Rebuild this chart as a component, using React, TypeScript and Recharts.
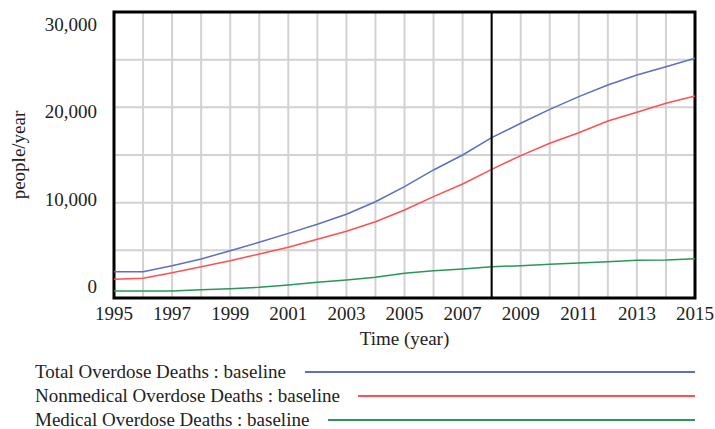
import { CartesianGrid, Line, LineChart, ReferenceArea, ReferenceLine, XAxis, YAxis } from "recharts";

const years = [
  1995, 1996, 1997, 1998, 1999, 2000, 2001, 2002, 2003, 2004, 2005,
  2006, 2007, 2008, 2009, 2010, 2011, 2012, 2013, 2014, 2015,
];
const totalDeaths = [
  2760, 2760, 3390, 4090, 4960, 5840, 6780, 7730, 8780, 10100, 11680,
  13430, 15000, 16820, 18330, 19790, 21120, 22340, 23390, 24260, 25140,
];
const nonmedicalDeaths = [
  1960, 2060, 2650, 3280, 3910, 4620, 5320, 6160, 7000, 8000, 9230,
  10630, 11960, 13500, 14930, 16230, 17340, 18570, 19480, 20420, 21190,
];
const medicalDeaths = [
  730, 730, 730, 870, 980, 1120, 1360, 1640, 1890, 2170, 2590,
  2860, 3040, 3280, 3390, 3530, 3670, 3810, 3950, 3990, 4120,
];
const yTicks = [0, 5000, 10000, 15000, 20000, 25000, 30000];
const markerYear = 2008;

const series = [
  { key: "total", name: "Total Overdose Deaths : baseline", color: "#5f6fbf", values: totalDeaths, lineStart: 305 },
  { key: "nonmedical", name: "Nonmedical Overdose Deaths : baseline", color: "#ff5050", values: nonmedicalDeaths, lineStart: 358 },
  { key: "medical", name: "Medical Overdose Deaths : baseline", color: "#2a9658", values: medicalDeaths, lineStart: 328 },
];

const data = years.map((year, i) => ({
  year,
  total: totalDeaths[i],
  nonmedical: nonmedicalDeaths[i],
  medical: medicalDeaths[i],
}));

const FONT = '"Liberation Serif", "Times New Roman", serif';

function XTick({ x, y, payload }: any) {
  if ((payload.value - 1995) % 2 !== 0) return null;
  return (
    <text x={x} y={y} dy={14} textAnchor="middle" fontFamily={FONT} fontSize={19} fill="#222">
      {payload.value}
    </text>
  );
}

function YTick({ x, y, payload }: any) {
  if (payload.value % 10000 !== 0) return null;
  // labels in the source are spread a little wider than the grid
  const shift = -11 + (payload.value / 30000) * 24;
  return (
    <text x={x} y={y + shift} dy={6} textAnchor="end" fontFamily={FONT} fontSize={19} fill="#222">
      {payload.value.toLocaleString("en-US")}
    </text>
  );
}

export default function App() {
  return (
    <div style={{ position: "absolute", left: 0, top: 0, width: 715, height: 429, background: "#fff", overflow: "hidden" }}>
      <LineChart width={715} height={429} data={data} margin={{ top: 12, right: 20, left: 0, bottom: 71 }}>
        <CartesianGrid stroke="#d2d2d2" strokeWidth={2} />
        <XAxis
          dataKey="year"
          type="number"
          domain={[1995, 2015]}
          ticks={years}
          interval={0}
          tick={<XTick />}
          tickLine={false}
          axisLine={false}
          height={60}
          label={{ value: "Time (year)", position: "insideBottom", offset: 13, fontFamily: FONT, fontSize: 19, fill: "#222" }}
        />
        <YAxis
          type="number"
          domain={[0, 30000]}
          ticks={yTicks}
          interval={0}
          tick={<YTick />}
          tickLine={false}
          axisLine={false}
          width={114}
          tickMargin={11}
          label={{ value: "people/year", angle: -90, position: "insideLeft", offset: 18, textAnchor: "middle", fontFamily: FONT, fontSize: 19, fill: "#222" }}
        />
        {series.map((s) => (
          <Line
            key={s.key}
            type="linear"
            dataKey={s.key}
            stroke={s.color}
            strokeWidth={1.5}
            dot={false}
            activeDot={false}
            isAnimationActive={false}
          />
        ))}
        <ReferenceLine x={markerYear} stroke="#000" strokeWidth={2} />
        <ReferenceArea x1={1995} x2={2015} y1={0} y2={30000} fill="none" stroke="#000" strokeWidth={3} fillOpacity={0} />
      </LineChart>
      {series.map((s, i) => (
        <div
          key={s.key}
          style={{ position: "absolute", left: 35, top: 363 + i * 24, height: 18, width: 660, fontFamily: FONT, fontSize: 19, color: "#222" }}
        >
          <span style={{ position: "absolute", left: 0, top: 0, lineHeight: "18px", whiteSpace: "nowrap" }}>{s.name}</span>
          <div style={{ position: "absolute", left: s.lineStart - 35, right: 0, top: 8, height: 2, background: s.color }} />
        </div>
      ))}
    </div>
  );
}
